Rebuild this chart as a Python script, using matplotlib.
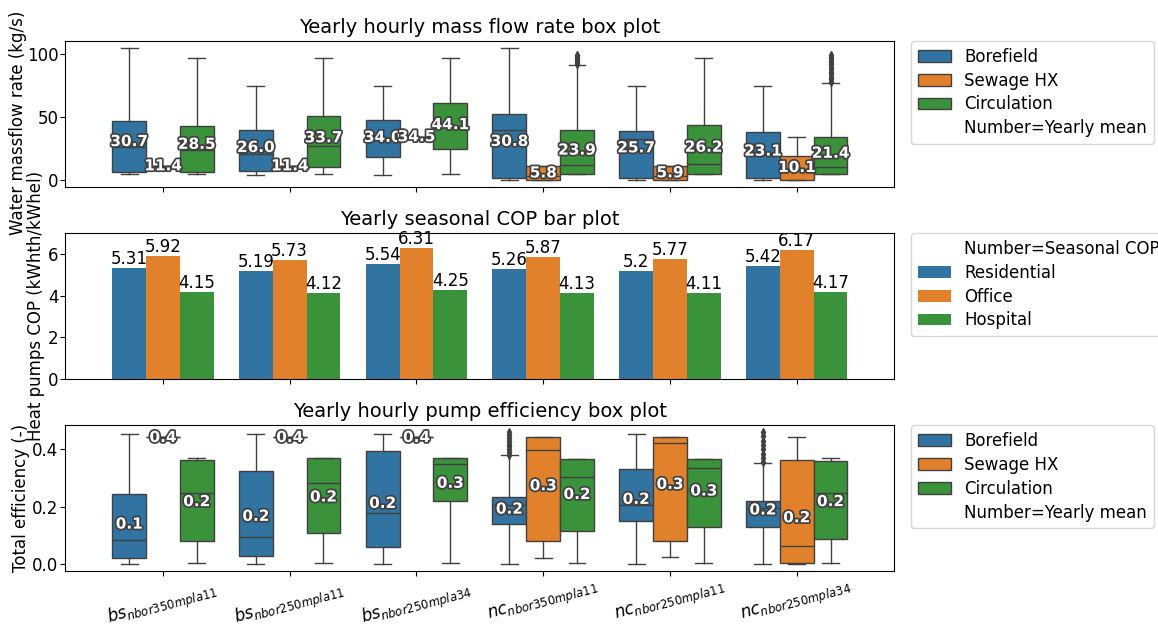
import numpy as np
import matplotlib.pyplot as plt
import matplotlib.patheffects as pe
from matplotlib.patches import Patch

# ---------------------------------
# Data
# ---------------------------------
categories = [r"$bs_{nbor350mpla11}$", r"$bs_{nbor250mpla11}$", r"$bs_{nbor250mpla34}$",
              r"$nc_{nbor350mpla11}$", r"$nc_{nbor250mpla11}$", r"$nc_{nbor250mpla34}$"]
loops = ["Borefield", "Sewage HX", "Circulation"]
buildings = ["Residential", "Office", "Hospital"]

# box stats per case: (whislo, q1, med, q3, whishi)
flow_borefield = [(5.2, 6.8, 26.1, 46.9, 105.2), (4.0, 7.6, 21.0, 39.5, 74.8),
                  (4.0, 18.7, 33.0, 47.5, 74.8), (0.2, 1.6, 39.8, 52.5, 105.2),
                  (0.2, 1.6, 32.4, 39.0, 74.8), (0.2, 1.6, 22.0, 38.0, 74.8)]
flow_sewage = [(11.4, 11.4, 11.4, 11.4, 11.4), (11.4, 11.4, 11.4, 11.4, 11.4),
               (34.5, 34.5, 34.5, 34.5, 34.5), (0.2, 0.2, 3.0, 11.6, 11.6),
               (0.2, 0.2, 3.0, 11.6, 11.6), (0.2, 0.2, 8.0, 19.0, 34.5)]
flow_circulation = [(5.0, 6.3, 24.0, 43.2, 97.0), (5.0, 10.5, 27.4, 51.1, 97.0),
                    (5.0, 24.5, 43.0, 61.4, 97.0), (5.0, 5.0, 11.9, 39.8, 91.8),
                    (5.0, 5.0, 12.6, 43.7, 97.0), (5.0, 5.0, 10.5, 34.0, 77.2)]
flow_circulation_fliers = [[], [], [], [92.5, 94, 95.5, 97, 98.5, 99.5], [],
                           [78, 80, 82, 84, 86, 88, 90, 92, 94, 96, 98, 99]]
flow_mean_borefield = [30.7, 26.0, 34.0, 30.8, 25.7, 23.1]
flow_mean_sewage = [11.4, 11.4, 34.5, 5.8, 5.9, 10.1]
flow_mean_circulation = [28.5, 33.7, 44.1, 23.9, 26.2, 21.4]

cop_residential = [5.31, 5.19, 5.54, 5.26, 5.2, 5.42]
cop_office = [5.92, 5.73, 6.31, 5.87, 5.77, 6.17]
cop_hospital = [4.15, 4.12, 4.25, 4.13, 4.11, 4.17]

eff_borefield = [(0.0, 0.0226, 0.084, 0.2457, 0.4526), (0.0, 0.0283, 0.0955, 0.323, 0.4526),
                 (0.0, 0.059, 0.1785, 0.3946, 0.4526), (0.0, 0.140, 0.207, 0.2355, 0.379),
                 (0.0, 0.151, 0.208, 0.331, 0.4526), (0.0, 0.1296, 0.1945, 0.2206, 0.354)]
eff_sewage = [(0.442, 0.442, 0.442, 0.442, 0.442), (0.442, 0.442, 0.442, 0.442, 0.442),
              (0.442, 0.442, 0.442, 0.442, 0.442), (0.0215, 0.0806, 0.399, 0.4413, 0.4413),
              (0.027, 0.082, 0.421, 0.4413, 0.4413), (0.002, 0.0034, 0.065, 0.364, 0.4413)]
eff_circulation = [(0.0044, 0.082, 0.248, 0.363, 0.3686), (0.0044, 0.110, 0.284, 0.368, 0.3686),
                   (0.0044, 0.222, 0.350, 0.368, 0.3686), (0.0044, 0.116, 0.3025, 0.367, 0.367),
                   (0.0044, 0.1296, 0.334, 0.367, 0.367), (0.0044, 0.0887, 0.247, 0.358, 0.3686)]
eff_borefield_fliers = [[], [], [], [0.38, 0.39, 0.40, 0.41, 0.42, 0.43, 0.44, 0.45, 0.46], [],
                        [0.355, 0.37, 0.385, 0.40, 0.415, 0.43, 0.445, 0.46]]
eff_mean_borefield = [0.140, 0.167, 0.212, 0.192, 0.226, 0.189]
eff_mean_sewage = [0.441, 0.441, 0.441, 0.273, 0.278, 0.162]
eff_mean_circulation = [0.218, 0.234, 0.282, 0.243, 0.255, 0.218]

colors = ["#3274a1", "#e1812c", "#3a923a"]
line_c = "#404040"
width = 0.8 / 3
offsets = [-width, 0.0, width]
no_fliers = [[]] * len(categories)


# ---------------------------------
# One hue group of boxes with the mean printed on it
# ---------------------------------
def draw_boxes(ax, boxes, fliers, means, color, offset, fmt):
    stats = [dict(whislo=b[0], q1=b[1], med=b[2], q3=b[3], whishi=b[4], fliers=f)
             for b, f in zip(boxes, fliers)]
    pos = np.arange(len(stats)) + offset
    ax.bxp(stats, positions=pos, widths=width, patch_artist=True, manage_ticks=False,
           boxprops=dict(facecolor=color, edgecolor=line_c, linewidth=1),
           medianprops=dict(color=line_c, linewidth=1),
           whiskerprops=dict(color=line_c, linewidth=1),
           capprops=dict(color=line_c, linewidth=1),
           flierprops=dict(marker="d", markerfacecolor=line_c, markeredgecolor=line_c,
                           markersize=4))
    for x, m in zip(pos, means):
        ax.text(x, m, fmt.format(m), ha="center", va="center", color="white",
                fontweight="bold", fontsize=11, zorder=5,
                path_effects=[pe.withStroke(linewidth=2.5, foreground="0.25")])


def box_legend(ax):
    handles = [Patch(facecolor=c, edgecolor=line_c, label=l) for c, l in zip(colors, loops)]
    handles.append(Patch(facecolor="none", edgecolor="none", label="Number=Yearly mean"))
    ax.legend(handles=handles, loc="upper left", bbox_to_anchor=(1.02, 1),
              borderaxespad=0, fontsize=12, labelspacing=0.35)


fig, axes = plt.subplots(3, 1, sharex=True, figsize=(11.58, 6.29), dpi=100)
fig.subplots_adjust(left=0.0564, right=0.7723, top=0.9348, bottom=0.0922, hspace=0.32)
ax1, ax2, ax3 = axes

# mass flow
flow_boxes = [flow_borefield, flow_sewage, flow_circulation]
flow_fliers = [no_fliers, no_fliers, flow_circulation_fliers]
flow_means = [flow_mean_borefield, flow_mean_sewage, flow_mean_circulation]
for i in range(3):
    draw_boxes(ax1, flow_boxes[i], flow_fliers[i], flow_means[i], colors[i], offsets[i], "{:.1f}")
ax1.set_title("Yearly hourly mass flow rate box plot", fontsize=14)
ax1.set_ylabel("Water massflow rate (kg/s)", fontsize=12)
ax1.yaxis.set_label_coords(-0.0466, 0.437)
box_legend(ax1)

# seasonal COP
x = np.arange(len(categories))
cop_values = [cop_residential, cop_office, cop_hospital]
for i in range(3):
    bars = ax2.bar(x + offsets[i], cop_values[i], width=width, color=colors[i], label=buildings[i])
    ax2.bar_label(bars, labels=[f"{v:g}" for v in cop_values[i]], fontsize=12)
ax2.set_ylim(0, 7)
ax2.set_title("Yearly seasonal COP bar plot", fontsize=14)
ax2.set_ylabel("Heat pumps COP (kWhth/kWhel)", fontsize=12)
ax2.yaxis.set_label_coords(-0.0245, 0.5)
h, l = ax2.get_legend_handles_labels()
h = [Patch(facecolor="none", edgecolor="none")] + h
l = ["Number=Seasonal COP"] + l
ax2.legend(h, l, loc="upper left", bbox_to_anchor=(1.02, 1), borderaxespad=0,
           fontsize=12, labelspacing=0.35)

# pump efficiency
eff_boxes = [eff_borefield, eff_sewage, eff_circulation]
eff_fliers = [eff_borefield_fliers, no_fliers, no_fliers]
eff_means = [eff_mean_borefield, eff_mean_sewage, eff_mean_circulation]
for i in range(3):
    draw_boxes(ax3, eff_boxes[i], eff_fliers[i], eff_means[i], colors[i], offsets[i], "{:.1f}")
ax3.set_title("Yearly hourly pump efficiency box plot", fontsize=14)
ax3.set_ylabel("Total efficiency (-)", fontsize=12)
ax3.yaxis.set_label_coords(-0.0426, 0.5)
box_legend(ax3)

ax3.set_xticks(x)
ax3.set_xticklabels(categories, rotation=15)
ax3.set_xlim(-0.77, len(categories) - 0.23)
for ax in axes:
    ax.tick_params(labelsize=12)
    ax.tick_params(axis="y", pad=1.5)
ax3.tick_params(axis="x", pad=1.5)

plt.savefig("out.png", dpi=100)
